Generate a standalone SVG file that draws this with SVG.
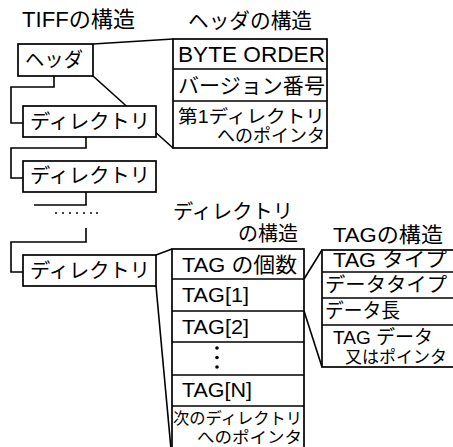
<svg xmlns="http://www.w3.org/2000/svg" width="453" height="447" viewBox="0 0 453 447">
<style>
.bx{fill:#fff;stroke:#000;stroke-width:1.7}
.ln{fill:none;stroke:#000;stroke-width:1.6}
text{font-family:"Liberation Sans","Noto Sans CJK JP",sans-serif;fill:#000}
.t{font-size:21px}
.s{font-size:18px}
.xs{font-size:16px}
.dot{fill:#000}
</style>
<rect width="453" height="447" fill="#fff"/>
<g id="titles">
<text x="22" y="27" font-size="22" textLength="113" lengthAdjust="spacingAndGlyphs">TIFFの構造</text>
<text x="188" y="28" class="t" textLength="124" lengthAdjust="spacingAndGlyphs">ヘッダの構造</text>
<text x="173" y="218.5" font-size="20" textLength="120" lengthAdjust="spacingAndGlyphs">ディレクトリ</text>
<text x="238" y="241" font-size="20" textLength="60" lengthAdjust="spacingAndGlyphs">の構造</text>
<text x="333" y="241.5" class="t" textLength="110" lengthAdjust="spacingAndGlyphs">TAGの構造</text>
</g>
<g id="connectors">
<polyline class="ln" points="54,76 54,87 11,87 11,123 23,123"/>
<polyline class="ln" points="86,137 86,148 11,148 11,178 23,178"/>
<polyline class="ln" points="86,192 86,205 34,205"/>
<polyline class="ln" points="86,228 86,242 11,242 11,272 23,272"/>
<line class="ln" x1="93" y1="44" x2="173" y2="39"/>
<line class="ln" x1="93" y1="76" x2="173" y2="148"/>
<line class="ln" x1="156" y1="255" x2="172" y2="249"/>
<line class="ln" x1="156" y1="286" x2="171" y2="449"/>
<line class="ln" x1="304" y1="279" x2="322" y2="250"/>
<line class="ln" x1="304" y1="311" x2="322" y2="367"/>
<g class="dot">
<circle cx="56" cy="213" r="1"/><circle cx="63" cy="213" r="1"/><circle cx="70" cy="213" r="1"/><circle cx="77" cy="213" r="1"/><circle cx="84" cy="213" r="1"/><circle cx="91" cy="213" r="1"/><circle cx="97" cy="213" r="1"/>
</g>
</g>
<g id="header">
<rect class="bx" x="18" y="44" width="75" height="32"/>
<text x="25" y="67" font-size="20" textLength="58" lengthAdjust="spacingAndGlyphs">ヘッダ</text>
</g>
<g id="dir1">
<rect class="bx" x="23" y="106" width="133" height="31"/>
<text x="30" y="128.5" font-size="20" textLength="120" lengthAdjust="spacingAndGlyphs">ディレクトリ</text>
</g>
<g id="dir2">
<rect class="bx" x="23" y="161" width="133" height="31"/>
<text x="30" y="183" font-size="20" textLength="120" lengthAdjust="spacingAndGlyphs">ディレクトリ</text>
</g>
<g id="dir3">
<rect class="bx" x="23" y="255" width="133" height="31"/>
<text x="30" y="277.5" font-size="20" textLength="120" lengthAdjust="spacingAndGlyphs">ディレクトリ</text>
</g>
<g id="header-structure">
<rect class="bx" x="173" y="39" width="154" height="109"/>
<line class="ln" x1="173" y1="69" x2="327" y2="69"/>
<line class="ln" x1="173" y1="101" x2="327" y2="101"/>
<text x="178" y="62" font-size="22" textLength="147" lengthAdjust="spacingAndGlyphs">BYTE ORDER</text>
<text x="178" y="93" class="t" textLength="147" lengthAdjust="spacingAndGlyphs">バージョン番号</text>
<text x="178" y="123" class="s" textLength="147" lengthAdjust="spacingAndGlyphs">第1ディレクトリ</text>
<text x="217" y="142" class="s" textLength="108" lengthAdjust="spacingAndGlyphs">へのポインタ</text>
</g>
<g id="directory-structure">
<rect class="bx" x="172" y="249" width="132" height="202"/>
<line class="ln" x1="172" y1="279" x2="304" y2="279"/>
<line class="ln" x1="172" y1="311" x2="304" y2="311"/>
<line class="ln" x1="172" y1="342" x2="304" y2="342"/>
<line class="ln" x1="172" y1="375" x2="304" y2="375"/>
<line class="ln" x1="172" y1="406" x2="304" y2="406"/>
<text x="182" y="272" class="t" textLength="115" lengthAdjust="spacingAndGlyphs">TAG の個数</text>
<text x="182" y="302" class="t" textLength="67" lengthAdjust="spacingAndGlyphs">TAG[1]</text>
<text x="182" y="334" class="t" textLength="67" lengthAdjust="spacingAndGlyphs">TAG[2]</text>
<circle class="dot" cx="217" cy="348" r="1.8"/>
<circle class="dot" cx="217" cy="357.5" r="1.8"/>
<circle class="dot" cx="217" cy="367" r="1.8"/>
<text x="182" y="397" class="t" textLength="70" lengthAdjust="spacingAndGlyphs">TAG[N]</text>
<text x="173" y="424" class="xs" textLength="129" lengthAdjust="spacingAndGlyphs">次のディレクトリ</text>
<text x="197" y="443" class="xs" textLength="105" lengthAdjust="spacingAndGlyphs">へのポインタ</text>
</g>
<g id="tag-structure">
<rect class="bx" x="322" y="250" width="140" height="117"/>
<line class="ln" x1="322" y1="272" x2="455" y2="272"/>
<line class="ln" x1="322" y1="298" x2="455" y2="298"/>
<line class="ln" x1="322" y1="325" x2="455" y2="325"/>
<text x="333" y="267" font-size="20" textLength="114" lengthAdjust="spacingAndGlyphs">TAG タイプ</text>
<text x="325" y="292" font-size="20" textLength="122" lengthAdjust="spacingAndGlyphs">データタイプ</text>
<text x="325" y="318" font-size="20" textLength="75" lengthAdjust="spacingAndGlyphs">データ長</text>
<text x="333" y="344" font-size="19" textLength="100" lengthAdjust="spacingAndGlyphs">TAG データ</text>
<text x="345" y="363" font-size="17" textLength="102" lengthAdjust="spacingAndGlyphs">又はポインタ</text>
</g>
</svg>
